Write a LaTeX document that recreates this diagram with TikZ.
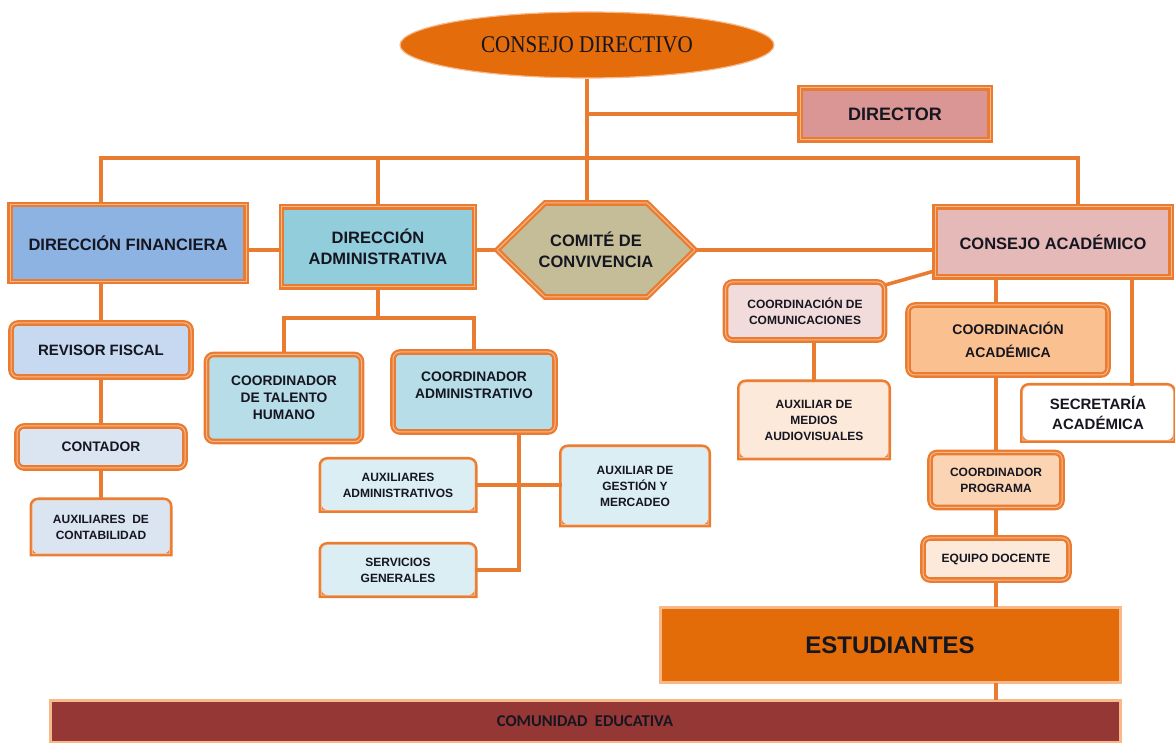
\documentclass[tikz,border=0pt]{standalone}
\usepackage{fontspec}
\setmainfont{Liberation Sans}
\newfontfamily\titlefont[FakeStretch=0.88]{Liberation Serif}
\newfontfamily\narrowfont{Carlito}
\usetikzlibrary{shapes.geometric}

\definecolor{orangeline}{RGB}{234,124,50}
\definecolor{orangelight}{RGB}{248,184,138}
\definecolor{ink}{RGB}{22,22,32}
\definecolor{cdfill}{RGB}{228,108,10}
\definecolor{dirfill}{RGB}{217,150,148}
\definecolor{finfill}{RGB}{141,179,226}
\definecolor{admfill}{RGB}{146,205,220}
\definecolor{comfill}{RGB}{196,189,151}
\definecolor{acadfill}{RGB}{229,185,183}
\definecolor{revfill}{RGB}{198,217,241}
\definecolor{contfill}{RGB}{219,229,241}
\definecolor{coordfill}{RGB}{183,221,232}
\definecolor{auxfill}{RGB}{218,238,243}
\definecolor{comufill}{RGB}{242,220,219}
\definecolor{medfill}{RGB}{253,233,217}
\definecolor{cacfill}{RGB}{250,192,143}
\definecolor{cpfill}{RGB}{251,212,180}
\definecolor{estfill}{RGB}{227,108,9}
\definecolor{cefill}{RGB}{149,55,53}

\begin{document}
\begin{tikzpicture}[x=1pt,y=1pt,
  frame/.style={draw=orangeline,line width=2.3pt,double=orangelight,double distance=1pt},
  sbox/.style={frame,fill=#1,align=center,text=ink,inner sep=1pt},
  rbox/.style={sbox=#1,rounded corners=7pt},
  tbox/.style={fill=#1,rounded corners=6pt,align=center,text=ink,inner sep=1pt,
    append after command={\pgfextra{\draw[frame,sharp corners] (\tikzlastnode.south west) -- ([yshift=-6pt]\tikzlastnode.north west) arc[start angle=180,end angle=90,radius=6pt] -- ([xshift=-6pt]\tikzlastnode.north east) arc[start angle=90,end angle=0,radius=6pt] -- (\tikzlastnode.south east) -- cycle;}}},
  link/.style={draw=orangeline,line width=3.6pt},
  fa/.style={font=\bfseries\fontsize{12}{16}\selectfont},
  fb/.style={font=\bfseries\fontsize{13.8}{17}\selectfont},
  fc/.style={font=\bfseries\fontsize{16.5}{21}\selectfont}]
  \useasboundingbox (0,0) rectangle (1175,742);

  %top
  \node[ellipse,fill=cdfill,draw=orangelight,line width=1.2pt,minimum width=374,minimum height=66,text=ink,font=\titlefont\fontsize{24}{28}\selectfont] (cd) at (587,697) {CONSEJO DIRECTIVO};
  \node[sbox=dirfill,font=\bfseries\fontsize{18}{22}\selectfont,minimum width=190,minimum height=52] (dir) at (895,628) {DIRECTOR};
  \coordinate (bus) at (587,584);
  \coordinate (acdrop) at (1078,0);

  %second row
  \node[sbox=finfill,fc,minimum width=236,minimum height=77] (fin) at (128,499) {DIRECCIÓN FINANCIERA};
  \node[sbox=admfill,fc,minimum width=193,minimum height=80] (adm) at (378,495) {DIRECCIÓN\\ADMINISTRATIVA};
  \coordinate (comc) at (596,492);
  \draw[frame,fill=comfill] ([xshift=-99pt]comc) -- ++(48,47) -- ++(102,0) -- ++(48,-47) -- ++(-48,-47) -- ++(-102,0) -- cycle;
  \node[fc,minimum width=198,minimum height=95,align=center,text=ink] (com) at (comc) {COMITÉ DE\\CONVIVENCIA};
  \node[sbox=acadfill,fc,minimum width=236,minimum height=70] (acad) at (1053,500) {CONSEJO ACADÉMICO};

  %left
  \node[rbox=revfill,font=\bfseries\fontsize{15}{18}\selectfont,minimum width=180,minimum height=54] (rev) at (101,392) {REVISOR FISCAL};
  \node[rbox=contfill,fb,minimum width=168,minimum height=42] (cont) at (101,295) {CONTADOR};
  \node[tbox=contfill,fa,minimum width=137,minimum height=53] (auxc) at (101,215) {AUXILIARES~~DE\\CONTABILIDAD};

  %middle
  \node[rbox=coordfill,fb,minimum width=155,minimum height=87] (tal) at (284,344) {COORDINADOR\\DE TALENTO\\HUMANO};
  \node[rbox=coordfill,fb,minimum width=162,minimum height=80] (cadm) at (474,350) {COORDINADOR\\ADMINISTRATIVO\\[-4pt]\mbox{}};
  \node[tbox=auxfill,fa,minimum width=153,minimum height=50] (auxadm) at (398,257) {AUXILIARES\\ADMINISTRATIVOS};
  \node[tbox=auxfill,fa,minimum width=153,minimum height=50] (serv) at (398,172) {SERVICIOS\\GENERALES};
  \node[tbox=auxfill,fa,minimum width=146,minimum height=77] (gest) at (635,256) {AUXILIAR DE\\GESTIÓN Y\\MERCADEO};
  \coordinate (split) at (378,424);
  \coordinate (drop) at (519,0);

  %right
  \node[rbox=comufill,fa,minimum width=159,minimum height=58] (comu) at (805,431) {COORDINACIÓN DE\\COMUNICACIONES};
  \node[tbox=medfill,fa,minimum width=148,minimum height=75] (med) at (814,322) {AUXILIAR DE\\MEDIOS\\AUDIOVISUALES};
  \node[rbox=cacfill,font=\bfseries\fontsize{14}{23}\selectfont,minimum width=200,minimum height=70] (cac) at (1008,402) {COORDINACIÓN\\ACADÉMICA};
  \node[tbox=white,font=\bfseries\fontsize{15}{20}\selectfont,minimum width=150,minimum height=54] (sec) at (1098,329) {SECRETARÍA\\ACADÉMICA};
  \node[rbox=cpfill,fa,minimum width=132,minimum height=55] (cp) at (996,262) {COORDINADOR\\PROGRAMA};
  \node[rbox=medfill,fa,minimum width=146,minimum height=42] (ed) at (996,183) {EQUIPO DOCENTE};
  \coordinate (secdrop) at (1132,0);

  %bottom
  \node[sbox=estfill,draw=orangelight,line width=1pt,font=\bfseries\fontsize{24}{28}\selectfont,minimum width=460,minimum height=75] (est) at (890,97) {ESTUDIANTES};
  \node[sbox=cefill,draw=orangelight,line width=1pt,font=\narrowfont\bfseries\fontsize{16.5}{19}\selectfont,minimum width=1070,minimum height=42] (ce) at (585,21) {COMUNIDAD~~EDUCATIVA};

  %links
  \draw[link] (cd.south) -- (cd.south |- com.north);
  \draw[link] (cd.south |- dir.west) -- (dir.west);
  \draw[link] (rev.north |- fin.north) |- (bus) -| (acad.north -| acdrop);
  \draw[link] (adm.north) -- (adm.north |- bus);
  \draw[link] (fin.east |- com.west) -- (adm.west |- com.west);
  \draw[link] (adm.east |- com.west) -- (com.west);
  \draw[link] (com.east) -- (com.east -| acad.west);
  \draw[link] (rev.north |- fin.south) -- (rev.north);
  \draw[link] (rev.south) -- (cont.north);
  \draw[link] (cont.south) -- (auxc.north);
  \draw[link] (adm.south) -- (split);
  \draw[link] (tal.north) |- (split) -| (cadm.north);
  \draw[link] (serv.east) -| (cadm.south -| drop);
  \draw[link] (auxadm.east) -- (auxadm.east -| gest.west);
  \draw[link] ([yshift=7pt]acad.south west) -- ([yshift=-4pt]comu.north east);
  \draw[link] (comu.south -| med.north) -- (med.north);
  \draw[link] (cp.north |- acad.south) -- (cp.north |- cac.north);
  \draw[link] (acad.south -| secdrop) -- (sec.north -| secdrop);
  \draw[link] (cac.south -| cp.north) -- (cp.north);
  \draw[link] (cp.south) -- (ed.north);
  \draw[link] (ed.south) -- (ed.south |- est.north);
  \draw[link] (ed.south |- est.south) -- (ed.south |- ce.north);
\end{tikzpicture}
\end{document}
